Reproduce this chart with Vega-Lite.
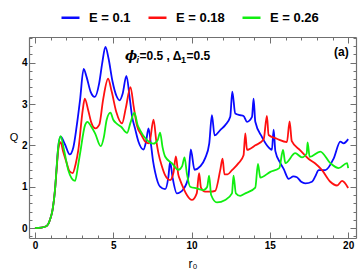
{
  "$schema": "https://vega.github.io/schema/vega-lite/v6.json",
  "width": 327,
  "height": 201,
  "autosize": {"type": "none"},
  "padding": {"left": 29, "top": 37, "right": 4, "bottom": 38},
  "background": "white",
  "config": {
    "view": {"stroke": null},
    "font": "Liberation Sans",
    "axis": {"domainColor": "#707070", "tickColor": "#707070", "grid": false, "labelFont": "Liberation Sans", "labelFontWeight": "bold", "labelFontSize": 10, "labelColor": "#000"}
  },
  "datasets": {
    "curves": [
      {"r":0,"Q":0,"E":"E = 0.1"},{"r":0.4,"Q":0.01,"E":"E = 0.1"},{"r":0.75,"Q":0.05,"E":"E = 0.1"},{"r":0.96,"Q":0.2,"E":"E = 0.1"},{"r":1.13,"Q":0.45,"E":"E = 0.1"},{"r":1.28,"Q":0.92,"E":"E = 0.1"},{"r":1.39,"Q":1.49,"E":"E = 0.1"},{"r":1.49,"Q":1.97,"E":"E = 0.1"},{"r":1.64,"Q":2.21,"E":"E = 0.1"},{"r":1.92,"Q":2.02,"E":"E = 0.1"},{"r":2.22,"Q":1.78,"E":"E = 0.1"},{"r":2.45,"Q":1.95,"E":"E = 0.1"},{"r":2.66,"Q":2.45,"E":"E = 0.1"},{"r":2.88,"Q":3.1,"E":"E = 0.1"},{"r":3.11,"Q":3.85,"E":"E = 0.1"},{"r":3.3,"Q":3.65,"E":"E = 0.1"},{"r":3.55,"Q":3.3,"E":"E = 0.1"},{"r":3.82,"Q":3.17,"E":"E = 0.1"},{"r":4.1,"Q":3.5,"E":"E = 0.1"},{"r":4.3,"Q":4.0,"E":"E = 0.1"},{"r":4.5,"Q":4.38,"E":"E = 0.1"},{"r":4.7,"Q":4.1,"E":"E = 0.1"},{"r":4.95,"Q":3.55,"E":"E = 0.1"},{"r":5.2,"Q":3.2,"E":"E = 0.1"},{"r":5.41,"Q":3.09,"E":"E = 0.1"},{"r":5.6,"Q":3.25,"E":"E = 0.1"},{"r":5.84,"Q":3.68,"E":"E = 0.1"},{"r":6.05,"Q":3.15,"E":"E = 0.1"},{"r":6.2,"Q":2.7,"E":"E = 0.1"},{"r":6.39,"Q":2.41,"E":"E = 0.1"},{"r":6.6,"Q":2.1,"E":"E = 0.1"},{"r":6.93,"Q":1.9,"E":"E = 0.1"},{"r":7.1,"Q":2.1,"E":"E = 0.1"},{"r":7.25,"Q":2.41,"E":"E = 0.1"},{"r":7.4,"Q":2.05,"E":"E = 0.1"},{"r":7.55,"Q":1.6,"E":"E = 0.1"},{"r":7.67,"Q":1.36,"E":"E = 0.1"},{"r":7.99,"Q":1.0,"E":"E = 0.1"},{"r":8.31,"Q":0.94,"E":"E = 0.1"},{"r":8.52,"Q":1.24,"E":"E = 0.1"},{"r":8.63,"Q":1.6,"E":"E = 0.1"},{"r":8.78,"Q":1.24,"E":"E = 0.1"},{"r":9.06,"Q":0.84,"E":"E = 0.1"},{"r":9.48,"Q":0.94,"E":"E = 0.1"},{"r":9.8,"Q":1.24,"E":"E = 0.1"},{"r":9.95,"Q":1.9,"E":"E = 0.1"},{"r":10.19,"Q":1.41,"E":"E = 0.1"},{"r":10.55,"Q":1.49,"E":"E = 0.1"},{"r":10.87,"Q":1.69,"E":"E = 0.1"},{"r":11.13,"Q":2.05,"E":"E = 0.1"},{"r":11.3,"Q":2.73,"E":"E = 0.1"},{"r":11.47,"Q":2.24,"E":"E = 0.1"},{"r":11.83,"Q":2.37,"E":"E = 0.1"},{"r":12.15,"Q":2.49,"E":"E = 0.1"},{"r":12.47,"Q":2.69,"E":"E = 0.1"},{"r":12.6,"Q":3.3,"E":"E = 0.1"},{"r":12.79,"Q":2.77,"E":"E = 0.1"},{"r":13.1,"Q":2.73,"E":"E = 0.1"},{"r":13.32,"Q":2.71,"E":"E = 0.1"},{"r":13.54,"Q":2.57,"E":"E = 0.1"},{"r":13.86,"Q":2.69,"E":"E = 0.1"},{"r":13.96,"Q":3.13,"E":"E = 0.1"},{"r":14.07,"Q":2.57,"E":"E = 0.1"},{"r":14.5,"Q":2.2,"E":"E = 0.1"},{"r":14.92,"Q":1.95,"E":"E = 0.1"},{"r":15.13,"Q":1.89,"E":"E = 0.1"},{"r":15.24,"Q":2.38,"E":"E = 0.1"},{"r":15.35,"Q":1.86,"E":"E = 0.1"},{"r":15.67,"Q":1.57,"E":"E = 0.1"},{"r":15.88,"Q":1.43,"E":"E = 0.1"},{"r":16.2,"Q":1.19,"E":"E = 0.1"},{"r":16.5,"Q":1.25,"E":"E = 0.1"},{"r":16.73,"Q":1.23,"E":"E = 0.1"},{"r":17.0,"Q":1.12,"E":"E = 0.1"},{"r":17.26,"Q":1.08,"E":"E = 0.1"},{"r":17.69,"Q":1.12,"E":"E = 0.1"},{"r":17.9,"Q":1.25,"E":"E = 0.1"},{"r":18.12,"Q":1.4,"E":"E = 0.1"},{"r":18.54,"Q":1.4,"E":"E = 0.1"},{"r":19.07,"Q":1.68,"E":"E = 0.1"},{"r":19.5,"Q":2.09,"E":"E = 0.1"},{"r":19.71,"Q":2.05,"E":"E = 0.1"},{"r":20.0,"Q":2.15,"E":"E = 0.1"},
      {"r":0,"Q":0,"E":"E = 0.18"},{"r":0.4,"Q":0.01,"E":"E = 0.18"},{"r":0.75,"Q":0.05,"E":"E = 0.18"},{"r":0.96,"Q":0.2,"E":"E = 0.18"},{"r":1.13,"Q":0.45,"E":"E = 0.18"},{"r":1.28,"Q":0.92,"E":"E = 0.18"},{"r":1.39,"Q":1.45,"E":"E = 0.18"},{"r":1.49,"Q":1.9,"E":"E = 0.18"},{"r":1.64,"Q":2.08,"E":"E = 0.18"},{"r":1.8,"Q":1.85,"E":"E = 0.18"},{"r":2.03,"Q":1.57,"E":"E = 0.18"},{"r":2.2,"Q":1.38,"E":"E = 0.18"},{"r":2.41,"Q":1.33,"E":"E = 0.18"},{"r":2.6,"Q":1.55,"E":"E = 0.18"},{"r":2.77,"Q":1.89,"E":"E = 0.18"},{"r":3.05,"Q":2.85,"E":"E = 0.18"},{"r":3.18,"Q":3.13,"E":"E = 0.18"},{"r":3.4,"Q":2.85,"E":"E = 0.18"},{"r":3.6,"Q":2.55,"E":"E = 0.18"},{"r":3.86,"Q":2.41,"E":"E = 0.18"},{"r":4.11,"Q":2.5,"E":"E = 0.18"},{"r":4.35,"Q":3.1,"E":"E = 0.18"},{"r":4.67,"Q":3.61,"E":"E = 0.18"},{"r":4.9,"Q":3.3,"E":"E = 0.18"},{"r":5.2,"Q":2.8,"E":"E = 0.18"},{"r":5.56,"Q":2.53,"E":"E = 0.18"},{"r":5.8,"Q":2.9,"E":"E = 0.18"},{"r":6.1,"Q":3.41,"E":"E = 0.18"},{"r":6.3,"Q":2.95,"E":"E = 0.18"},{"r":6.5,"Q":2.5,"E":"E = 0.18"},{"r":6.8,"Q":2.25,"E":"E = 0.18"},{"r":7.1,"Q":2.07,"E":"E = 0.18"},{"r":7.3,"Q":2.05,"E":"E = 0.18"},{"r":7.57,"Q":2.62,"E":"E = 0.18"},{"r":7.75,"Q":2.1,"E":"E = 0.18"},{"r":7.89,"Q":1.8,"E":"E = 0.18"},{"r":8.1,"Q":1.5,"E":"E = 0.18"},{"r":8.31,"Q":1.28,"E":"E = 0.18"},{"r":8.63,"Q":1.16,"E":"E = 0.18"},{"r":8.85,"Q":1.35,"E":"E = 0.18"},{"r":9.0,"Q":1.73,"E":"E = 0.18"},{"r":9.15,"Q":1.3,"E":"E = 0.18"},{"r":9.27,"Q":1.16,"E":"E = 0.18"},{"r":9.5,"Q":0.95,"E":"E = 0.18"},{"r":9.7,"Q":0.8,"E":"E = 0.18"},{"r":10.02,"Q":0.68,"E":"E = 0.18"},{"r":10.33,"Q":0.84,"E":"E = 0.18"},{"r":10.48,"Q":1.33,"E":"E = 0.18"},{"r":10.6,"Q":0.98,"E":"E = 0.18"},{"r":10.87,"Q":0.88,"E":"E = 0.18"},{"r":11.19,"Q":0.88,"E":"E = 0.18"},{"r":11.51,"Q":0.9,"E":"E = 0.18"},{"r":11.83,"Q":1.4,"E":"E = 0.18"},{"r":11.98,"Q":1.68,"E":"E = 0.18"},{"r":12.1,"Q":1.3,"E":"E = 0.18"},{"r":12.3,"Q":1.3,"E":"E = 0.18"},{"r":12.58,"Q":1.4,"E":"E = 0.18"},{"r":13.0,"Q":1.57,"E":"E = 0.18"},{"r":13.32,"Q":1.76,"E":"E = 0.18"},{"r":13.43,"Q":2.29,"E":"E = 0.18"},{"r":13.54,"Q":1.89,"E":"E = 0.18"},{"r":14.07,"Q":2.0,"E":"E = 0.18"},{"r":14.6,"Q":2.14,"E":"E = 0.18"},{"r":14.81,"Q":2.71,"E":"E = 0.18"},{"r":14.92,"Q":2.25,"E":"E = 0.18"},{"r":15.45,"Q":2.16,"E":"E = 0.18"},{"r":16.09,"Q":2.08,"E":"E = 0.18"},{"r":16.26,"Q":2.58,"E":"E = 0.18"},{"r":16.4,"Q":2.1,"E":"E = 0.18"},{"r":16.94,"Q":1.88,"E":"E = 0.18"},{"r":17.48,"Q":1.67,"E":"E = 0.18"},{"r":17.9,"Q":1.56,"E":"E = 0.18"},{"r":18.33,"Q":1.4,"E":"E = 0.18"},{"r":18.86,"Q":1.12,"E":"E = 0.18"},{"r":19.29,"Q":1.03,"E":"E = 0.18"},{"r":19.61,"Q":1.14,"E":"E = 0.18"},{"r":20.0,"Q":0.97,"E":"E = 0.18"},
      {"r":0,"Q":0,"E":"E = 0.26"},{"r":0.4,"Q":0.01,"E":"E = 0.26"},{"r":0.75,"Q":0.05,"E":"E = 0.26"},{"r":0.96,"Q":0.2,"E":"E = 0.26"},{"r":1.13,"Q":0.45,"E":"E = 0.26"},{"r":1.28,"Q":0.92,"E":"E = 0.26"},{"r":1.39,"Q":1.49,"E":"E = 0.26"},{"r":1.49,"Q":1.97,"E":"E = 0.26"},{"r":1.64,"Q":2.22,"E":"E = 0.26"},{"r":1.85,"Q":1.9,"E":"E = 0.26"},{"r":2.13,"Q":1.4,"E":"E = 0.26"},{"r":2.35,"Q":1.2,"E":"E = 0.26"},{"r":2.56,"Q":1.14,"E":"E = 0.26"},{"r":2.75,"Q":1.5,"E":"E = 0.26"},{"r":2.88,"Q":1.8,"E":"E = 0.26"},{"r":3.2,"Q":2.49,"E":"E = 0.26"},{"r":3.35,"Q":2.57,"E":"E = 0.26"},{"r":3.6,"Q":2.45,"E":"E = 0.26"},{"r":3.84,"Q":2.29,"E":"E = 0.26"},{"r":4.2,"Q":1.98,"E":"E = 0.26"},{"r":4.4,"Q":2.2,"E":"E = 0.26"},{"r":4.58,"Q":2.62,"E":"E = 0.26"},{"r":4.82,"Q":2.79,"E":"E = 0.26"},{"r":5.0,"Q":2.62,"E":"E = 0.26"},{"r":5.24,"Q":2.52,"E":"E = 0.26"},{"r":5.5,"Q":2.45,"E":"E = 0.26"},{"r":5.88,"Q":2.3,"E":"E = 0.26"},{"r":6.1,"Q":2.55,"E":"E = 0.26"},{"r":6.35,"Q":2.79,"E":"E = 0.26"},{"r":6.55,"Q":2.5,"E":"E = 0.26"},{"r":6.71,"Q":2.37,"E":"E = 0.26"},{"r":7.14,"Q":2.13,"E":"E = 0.26"},{"r":7.56,"Q":2.04,"E":"E = 0.26"},{"r":7.84,"Q":2.13,"E":"E = 0.26"},{"r":7.99,"Q":2.31,"E":"E = 0.26"},{"r":8.15,"Q":1.95,"E":"E = 0.26"},{"r":8.31,"Q":1.73,"E":"E = 0.26"},{"r":8.74,"Q":1.57,"E":"E = 0.26"},{"r":9.16,"Q":1.41,"E":"E = 0.26"},{"r":9.4,"Q":1.5,"E":"E = 0.26"},{"r":9.55,"Q":1.71,"E":"E = 0.26"},{"r":9.7,"Q":1.32,"E":"E = 0.26"},{"r":9.91,"Q":1.0,"E":"E = 0.26"},{"r":10.33,"Q":0.96,"E":"E = 0.26"},{"r":10.76,"Q":0.92,"E":"E = 0.26"},{"r":11.0,"Q":1.0,"E":"E = 0.26"},{"r":11.12,"Q":1.27,"E":"E = 0.26"},{"r":11.25,"Q":0.8,"E":"E = 0.26"},{"r":11.62,"Q":0.62,"E":"E = 0.26"},{"r":12.15,"Q":0.68,"E":"E = 0.26"},{"r":12.58,"Q":0.84,"E":"E = 0.26"},{"r":12.68,"Q":1.27,"E":"E = 0.26"},{"r":12.83,"Q":0.84,"E":"E = 0.26"},{"r":13.1,"Q":0.78,"E":"E = 0.26"},{"r":13.43,"Q":0.84,"E":"E = 0.26"},{"r":14.07,"Q":0.98,"E":"E = 0.26"},{"r":14.24,"Q":1.55,"E":"E = 0.26"},{"r":14.39,"Q":1.22,"E":"E = 0.26"},{"r":15.03,"Q":1.36,"E":"E = 0.26"},{"r":15.6,"Q":1.45,"E":"E = 0.26"},{"r":15.84,"Q":1.89,"E":"E = 0.26"},{"r":15.99,"Q":1.57,"E":"E = 0.26"},{"r":16.62,"Q":1.81,"E":"E = 0.26"},{"r":17.05,"Q":1.71,"E":"E = 0.26"},{"r":17.35,"Q":1.8,"E":"E = 0.26"},{"r":17.41,"Q":2.07,"E":"E = 0.26"},{"r":17.54,"Q":1.72,"E":"E = 0.26"},{"r":18.22,"Q":1.85,"E":"E = 0.26"},{"r":18.86,"Q":1.57,"E":"E = 0.26"},{"r":19.39,"Q":1.45,"E":"E = 0.26"},{"r":19.93,"Q":1.57,"E":"E = 0.26"},{"r":20.0,"Q":1.45,"E":"E = 0.26"}
    ],
    "one": [{}]
  },
  "resolve": {"axis": {"x": "independent", "y": "independent"}},
  "layer": [
    {
      "data": {"name": "curves"},
      "mark": {"type": "line", "strokeWidth": 1.8, "interpolate": "monotone"},
      "encoding": {
        "x": {"field": "r", "type": "quantitative", "scale": {"domain": [-0.38, 20.5], "nice": false, "zero": false},
          "axis": {"orient": "bottom", "title": "r₀", "titleFont": "Liberation Sans", "titleFontSize": 12, "titleFontWeight": "normal", "titlePadding": 8,
            "values": [0,1,2,3,4,5,6,7,8,9,10,11,12,13,14,15,16,17,18,19,20],
            "labelExpr": "datum.value % 5 === 0 ? datum.label : ''",
            "tickSize": {"condition": {"test": "datum.value % 5 === 0", "value": -6}, "value": -3},
            "labelPadding": 8, "domainWidth": 1.2}},
        "y": {"field": "Q", "type": "quantitative", "scale": {"domain": [-0.24, 4.62], "nice": false, "zero": false},
          "axis": {"orient": "left", "title": "Q", "titleAngle": 0, "titleFont": "Liberation Sans", "titleFontSize": 11, "titleFontWeight": "normal", "titlePadding": 8, "titleBaseline": "middle", "titleAlign": "center",
            "values": [-0.2,0,0.2,0.4,0.6,0.8,1,1.2,1.4,1.6,1.8,2,2.2,2.4,2.6,2.8,3,3.2,3.4,3.6,3.8,4,4.2,4.4,4.6],
            "labelExpr": "abs(datum.value - round(datum.value)) < 0.001 ? format(datum.value, 'd') : ''",
            "tickSize": {"condition": {"test": "abs(datum.value - round(datum.value)) < 0.001", "value": -6}, "value": -3},
            "labelPadding": 8, "domainWidth": 1.2}},
        "color": {"field": "E", "type": "nominal",
          "scale": {"domain": ["E = 0.1", "E = 0.18", "E = 0.26"], "range": ["#0a0aff", "#ff1010", "#10ee10"]},
          "legend": {"orient": "none", "direction": "horizontal", "legendX": 31, "legendY": -30, "title": null,
            "symbolType": "stroke", "symbolStrokeWidth": 2.5, "symbolSize": 324, "labelFont": "Liberation Sans", "labelFontSize": 13, "labelFontWeight": "bold", "labelColor": "#000", "labelOffset": 8, "columnPadding": 12}}
      }
    },
    {
      "data": {"name": "curves"},
      "mark": {"type": "line", "strokeOpacity": 0},
      "encoding": {
        "x": {"field": "r", "type": "quantitative", "scale": {"domain": [-0.38, 20.5], "nice": false, "zero": false},
          "axis": {"orient": "top", "title": null, "labels": false,
            "values": [0,1,2,3,4,5,6,7,8,9,10,11,12,13,14,15,16,17,18,19,20],
            "tickSize": {"condition": {"test": "datum.value % 5 === 0", "value": -6}, "value": -3}, "domainWidth": 1.2}},
        "y": {"field": "Q", "type": "quantitative", "scale": {"domain": [-0.24, 4.62], "nice": false, "zero": false},
          "axis": {"orient": "right", "title": null, "labels": false,
            "values": [-0.2,0,0.2,0.4,0.6,0.8,1,1.2,1.4,1.6,1.8,2,2.2,2.4,2.6,2.8,3,3.2,3.4,3.6,3.8,4,4.2,4.4,4.6],
            "tickSize": {"condition": {"test": "abs(datum.value - round(datum.value)) < 0.001", "value": -6}, "value": -3}, "domainWidth": 1.2}},
        "detail": {"field": "E"}
      }
    },
    {
      "data": {"name": "one"},
      "mark": {"type": "text", "font": "DejaVu Serif", "fontSize": 13, "fontWeight": "bold", "fontStyle": "italic", "align": "left", "baseline": "middle", "color": "#000"},
      "encoding": {
        "x": {"datum": 5.75, "type": "quantitative", "axis": null},
        "y": {"datum": 4.15, "type": "quantitative", "axis": null},
        "text": {"value": "ϕ"}
      }
    },
    {
      "data": {"name": "one"},
      "mark": {"type": "text", "font": "Liberation Sans", "fontSize": 9, "fontWeight": "bold", "fontStyle": "italic", "align": "left", "baseline": "middle", "color": "#000"},
      "encoding": {
        "x": {"datum": 6.48, "type": "quantitative", "axis": null},
        "y": {"datum": 4.06, "type": "quantitative", "axis": null},
        "text": {"value": "i"}
      }
    },
    {
      "data": {"name": "one"},
      "mark": {"type": "text", "font": "Liberation Sans", "fontSize": 12, "fontWeight": "bold", "align": "left", "baseline": "middle", "color": "#000"},
      "encoding": {
        "x": {"datum": 6.68, "type": "quantitative", "axis": null},
        "y": {"datum": 4.15, "type": "quantitative", "axis": null},
        "text": {"value": "=0.5 , Δ"}
      }
    },
    {
      "data": {"name": "one"},
      "mark": {"type": "text", "font": "Liberation Sans", "fontSize": 9, "fontWeight": "bold", "align": "left", "baseline": "middle", "color": "#000"},
      "encoding": {
        "x": {"datum": 9.33, "type": "quantitative", "axis": null},
        "y": {"datum": 4.06, "type": "quantitative", "axis": null},
        "text": {"value": "1"}
      }
    },
    {
      "data": {"name": "one"},
      "mark": {"type": "text", "font": "Liberation Sans", "fontSize": 12, "fontWeight": "bold", "align": "left", "baseline": "middle", "color": "#000"},
      "encoding": {
        "x": {"datum": 9.68, "type": "quantitative", "axis": null},
        "y": {"datum": 4.15, "type": "quantitative", "axis": null},
        "text": {"value": "=0.5"}
      }
    },
    {
      "data": {"name": "one"},
      "mark": {"type": "text", "font": "Liberation Sans", "fontSize": 12, "fontWeight": "bold", "align": "center", "baseline": "middle", "color": "#000"},
      "encoding": {
        "x": {"datum": 19.57, "type": "quantitative", "axis": null},
        "y": {"datum": 4.25, "type": "quantitative", "axis": null},
        "text": {"value": "(a)"}
      }
    }
  ]
}
